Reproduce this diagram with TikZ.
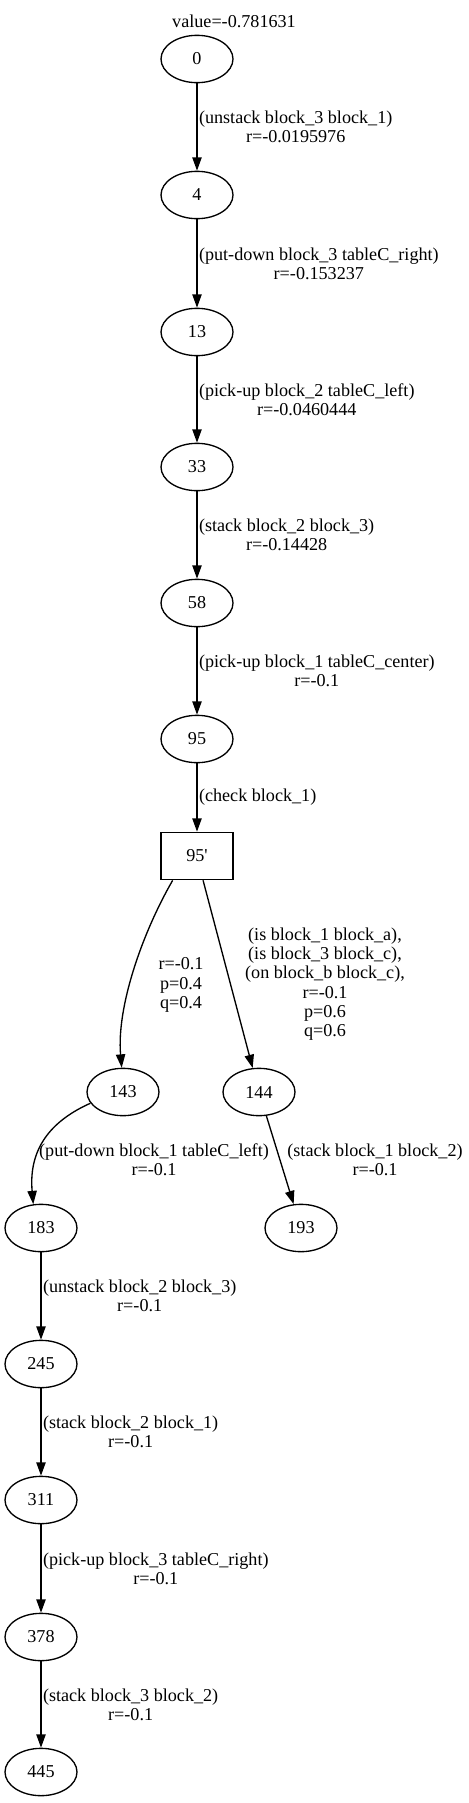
\documentclass[tikz,border=0pt]{standalone}
\usepackage{fontspec}
\setmainfont{Liberation Serif}
\usetikzlibrary{shapes.geometric,arrows.meta}

\begin{document}
\begin{tikzpicture}[x=0.75pt,y=0.75pt]
\tikzstyle{every node}+=[inner sep=0pt, font=\fontsize{13.6}{14.5}\selectfont]
\tikzstyle{state}=[draw=black, line width=1pt, ellipse, minimum width=54pt, minimum height=35.5pt]
\tikzstyle{chance}=[draw=black, line width=1pt, rectangle, minimum width=54pt, minimum height=35.5pt]
\tikzstyle{edge}=[black, line width=1pt, -{Triangle[length=10pt,width=7pt]}]
\tikzstyle{lbl}=[align=center, inner sep=1pt]
\useasboundingbox (0,0) rectangle (468,-1803);
\node (title) at (234,-21) {value=-0.781631};
\node [state] (n0) at (197,-59) {0};
\node [state] (n4) at (197,-195) {4};
\node [state] (n13) at (197,-332) {13};
\node [state] (n33) at (197,-467) {33};
\node [state] (n58) at (197,-603) {58};
\node [state] (n95) at (197,-739) {95};
\node [chance] (n95p) at (197,-856) {95\textquotesingle};
\node [state] (n143) at (123,-1092) {143};
\node [state] (n144) at (259,-1092) {144};
\node [state] (n183) at (41,-1228) {183};
\node [state] (n193) at (301,-1228) {193};
\node [state] (n245) at (41,-1364) {245};
\node [state] (n311) at (41,-1500) {311};
\node [state] (n378) at (41,-1637) {378};
\node [state] (n445) at (41,-1772) {445};
\draw [edge] (n0) -- node [lbl, right] {(unstack block\_3 block\_1)\\r=-0.0195976} (n4);
\draw [edge] (n4) -- node [lbl, right] {(put-down block\_3 tableC\_right)\\r=-0.153237} (n13);
\draw [edge] (n13) -- node [lbl, right] {(pick-up block\_2 tableC\_left)\\r=-0.0460444} (n33);
\draw [edge] (n33) -- node [lbl, right] {(stack block\_2 block\_3)\\r=-0.14428} (n58);
\draw [edge] (n58) -- node [lbl, right] {(pick-up block\_1 tableC\_center)\\r=-0.1} (n95);
\draw [edge] (n95) -- node [lbl, right] {(check block\_1)} (n95p);
\draw [edge] (n95p.225) to [out=240, in=95, looseness=0.8] (n143.93);
\node [lbl] (o143) at (181,-985) {r=-0.1\\p=0.4\\q=0.4};
\draw [edge] (n95p.284) -- (n144);
\node [lbl] (o144) at (325,-984) {(is block\_1 block\_a),\\(is block\_3 block\_c),\\(on block\_b block\_c),\\r=-0.1\\p=0.6\\q=0.6};
\draw [edge] (n143.199) to [out=204, in=95, looseness=1.1] (n183.108);
\node [lbl] (a183) at (154,-1160) {(put-down block\_1 tableC\_left)\\r=-0.1};
\draw [edge] (n144) -- (n193);
\node [lbl] (a193) at (375,-1160) {(stack block\_1 block\_2)\\r=-0.1};
\draw [edge] (n183) -- node [lbl, right] {(unstack block\_2 block\_3)\\r=-0.1} (n245);
\draw [edge] (n245) -- node [lbl, right] {(stack block\_2 block\_1)\\r=-0.1} (n311);
\draw [edge] (n311) -- node [lbl, right] {(pick-up block\_3 tableC\_right)\\r=-0.1} (n378);
\draw [edge] (n378) -- node [lbl, right] {(stack block\_3 block\_2)\\r=-0.1} (n445);
\end{tikzpicture}
\end{document}
